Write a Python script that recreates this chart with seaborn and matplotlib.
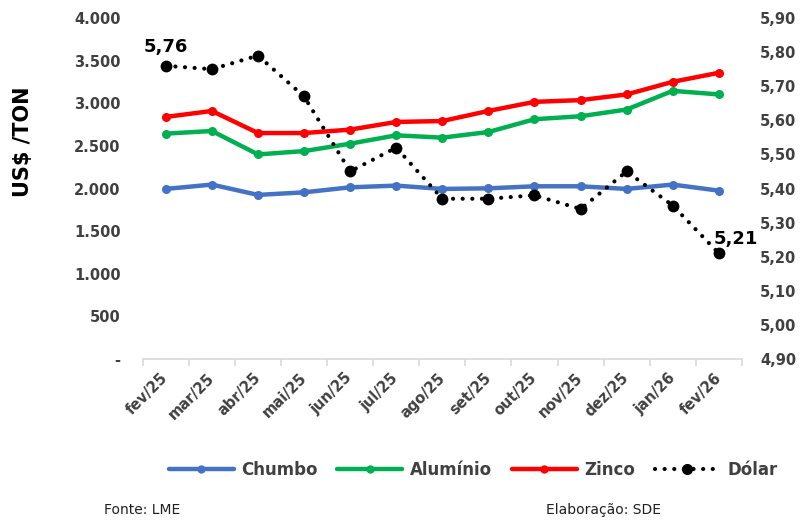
import matplotlib
matplotlib.use("Agg")
import matplotlib.pyplot as plt
import seaborn as sns
import numpy as np
from matplotlib.lines import Line2D

# ---- data ----
meses = ["fev/25", "mar/25", "abr/25", "mai/25", "jun/25", "jul/25", "ago/25",
         "set/25", "out/25", "nov/25", "dez/25", "jan/26", "fev/26"]
chumbo = [1995, 2046, 1925, 1955, 2014, 2034, 1995, 2002, 2026, 2026, 1995, 2046, 1975]
aluminio = [2644, 2675, 2400, 2439, 2526, 2624, 2597, 2663, 2813, 2848, 2927, 3146, 3104]
zinco = [2840, 2910, 2651, 2651, 2691, 2781, 2792, 2910, 3017, 3037, 3104, 3252, 3358]
dolar = [5.76, 5.75, 5.79, 5.67, 5.45, 5.52, 5.37, 5.37, 5.38, 5.34, 5.45, 5.35, 5.21]

left_ticks = [0, 500, 1000, 1500, 2000, 2500, 3000, 3500, 4000]
left_labels = ["-", "500", "1.000", "1.500", "2.000", "2.500", "3.000", "3.500", "4.000"]
right_ticks = [4.90, 5.00, 5.10, 5.20, 5.30, 5.40, 5.50, 5.60, 5.70, 5.80, 5.90]
right_labels = ["4,90", "5,00", "5,10", "5,20", "5,30", "5,40", "5,50", "5,60", "5,70", "5,80", "5,90"]
annot_first = "5,76"
annot_last = "5,21"

series_names = ["Chumbo", "Alumínio", "Zinco", "Dólar"]
colors = ["#4472C4", "#00B050", "#FF0000", "#000000"]

sns.set_theme(style="white")
plt.rcParams['font.family'] = ['DejaVu Sans']

grey_txt = "#404040"
fig = plt.figure(figsize=(8.02, 5.24), dpi=100)
ax = fig.add_axes([0.178, 0.315, 0.747, 0.6505])
ax2 = ax.twinx()

x = np.arange(len(meses))
dotted = (0, (0.01, 2.3))

for vals, name, col in zip([chumbo, aluminio, zinco], series_names[:3], colors[:3]):
    sns.lineplot(x=x, y=vals, ax=ax, color=col, linewidth=3.2, marker="o",
                 markersize=6.5, markeredgewidth=0, label=name, legend=False)

sns.lineplot(x=x, y=dolar, ax=ax2, color="black", linewidth=3.0, linestyle=dotted,
             dash_capstyle="round", marker="o", markersize=8.5, markeredgewidth=0,
             label="Dólar", legend=False)

for a in (ax, ax2):
    for s in a.spines.values():
        s.set_visible(False)
    a.grid(False)
ax.spines["bottom"].set_visible(True)
ax.spines["bottom"].set_color("#d9d9d9")
ax.spines["bottom"].set_linewidth(1.2)

ax.set_xlim(-0.5, len(meses) - 0.5)
ax.set_ylim(0, 4000)
ax2.set_ylim(4.9, 5.9)

ax.set_yticks(left_ticks)
ax.set_yticklabels(left_labels)
ax2.set_yticks(right_ticks)
ax2.set_yticklabels(right_labels)
ax.tick_params(axis="y", length=0, pad=16, labelsize=10.5, labelcolor=grey_txt)
ax2.tick_params(axis="y", length=0, pad=13, labelsize=10.5, labelcolor=grey_txt)
for lab in ax.get_yticklabels() + ax2.get_yticklabels():
    lab.set_fontweight("bold")

ax.set_xticks(x)
ax.set_xticklabels(meses, rotation=45, ha="right", va="center", rotation_mode="anchor",
                   fontweight="bold", fontsize=10.5, color=grey_txt)
ax.set_xticks(np.arange(-0.5, len(meses), 1), minor=True)
ax.tick_params(axis="x", which="major", length=0, pad=12)
ax.tick_params(axis="x", which="minor", length=5, width=1.2, color="#d9d9d9",
               direction="out", bottom=True)
ax.set_xlabel("")
ax.set_ylabel("")
ax2.set_ylabel("")

ax2.annotate(annot_first, xy=(x[0], dolar[0]), xytext=(0, 7), textcoords="offset points",
             ha="center", va="bottom", fontsize=13, fontweight="bold", color="black")
ax2.annotate(annot_last, xy=(x[-1], dolar[-1]), xytext=(-4, 10), textcoords="offset points",
             ha="left", va="center", fontsize=13, fontweight="bold", color="black")

fig.text(23 / 802, 1 - 142 / 524, "US$ /TON", rotation=90, ha="center", va="center",
         fontsize=15, fontweight="bold", color="black")

handles = []
for name, col in zip(series_names[:3], colors[:3]):
    handles.append(Line2D([], [], color=col, lw=3.2, marker="o", ms=6, mew=0))
handles.append(Line2D([], [], color="black", lw=3.0, linestyle=dotted, dash_capstyle="round",
                      marker="o", ms=8, mew=0))
leg = fig.legend(handles, series_names, loc="center", bbox_to_anchor=(0.59, 0.103),
                 ncol=4, frameon=False, handlelength=3.9, handletextpad=0.48,
                 columnspacing=1.15, prop={"weight": "bold", "size": 12})
for t in leg.get_texts():
    t.set_color(grey_txt)

fig.text(104 / 802, 1 - 510 / 524, "Fonte: LME", ha="left", va="center", fontsize=10, color="#202020")
fig.text(546 / 802, 1 - 510 / 524, "Elaboração: SDE", ha="left", va="center", fontsize=10, color="#202020")

fig.savefig("out.png", dpi=100)
